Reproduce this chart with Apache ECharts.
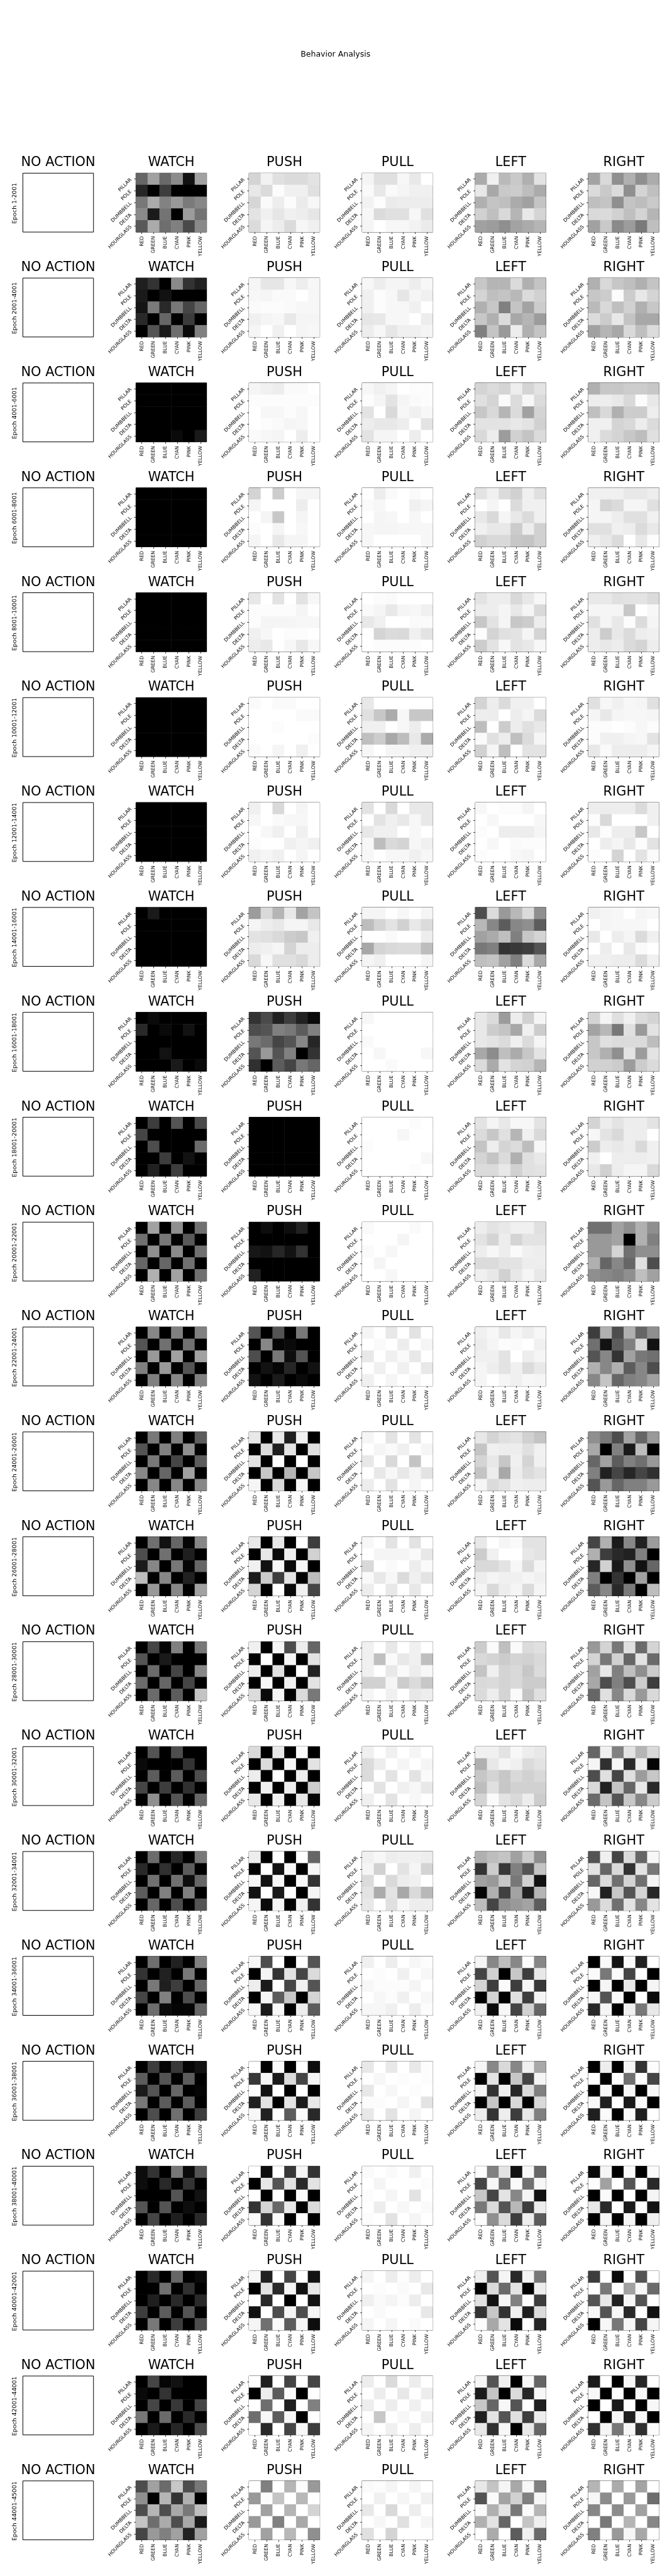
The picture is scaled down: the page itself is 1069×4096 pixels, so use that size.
<!DOCTYPE html>
<html><head><meta charset="utf-8">
<script src="https://cdn.jsdelivr.net/npm/echarts@6/dist/echarts.min.js"></script>
<style>html,body{margin:0;padding:0;background:#fff;}#c{width:1069px;height:4096px;}</style>
</head><body><div id="c"></div>
<script>
const SUPTITLE = 'Behavior Analysis';
const ACTIONS = ['NO ACTION','WATCH','PUSH','PULL','LEFT','RIGHT'];
const COLORS = ['RED','GREEN','BLUE','CYAN','PINK','YELLOW'];
const SHAPES = ['PILLAR','POLE','DUMBBELL','DELTA','HOURGLASS'];
const EPOCHS = ['Epoch 1-2001','Epoch 2001-4001','Epoch 4001-6001','Epoch 6001-8001','Epoch 8001-10001','Epoch 10001-12001','Epoch 12001-14001','Epoch 14001-16001','Epoch 16001-18001','Epoch 18001-20001','Epoch 20001-22001','Epoch 22001-24001','Epoch 24001-26001','Epoch 26001-28001','Epoch 28001-30001','Epoch 30001-32001','Epoch 32001-34001','Epoch 34001-36001','Epoch 36001-38001','Epoch 38001-40001','Epoch 40001-42001','Epoch 42001-44001','Epoch 44001-45001'];

// values: darkness 0 (white) .. 100 (black); rows = SHAPES, columns = COLORS
const B6 = [100,100,100,100,100,100];
const WATCH = [
[[60,37,59,45,93,37],[85,100,76,100,100,100],[53,33,49,40,52,47],[46,90,55,100,39,55],[65,33,57,50,71,46]],
[[88,80,100,46,80,87],[90,100,93,100,100,100],[92,52,84,53,73,60],[84,100,60,100,77,100],[100,67,90,57,96,50]],
[B6,B6,B6,B6,[100,100,100,96,100,90]],
[B6,B6,B6,B6,B6],
[B6,B6,B6,B6,B6],
[B6,B6,B6,B6,B6],
[B6,B6,B6,B6,B6],
[[100,90,100,100,100,100],B6,B6,B6,B6],
[[100,96,100,100,100,100],[84,100,96,100,93,100],B6,[100,100,93,100,100,100],[100,100,100,90,100,96]],
[[100,76,100,67,100,71],[73,100,100,100,100,100],[100,70,100,100,100,58],[100,100,76,100,93,100],[100,87,100,76,100,100]],
[[100,37,100,44,100,56],[56,100,53,100,65,100],[100,44,100,46,100,56],[60,100,60,100,56,100],[100,31,100,36,100,56]],
[[100,47,100,50,100,50],[67,100,56,100,56,100],[100,40,100,37,100,37],[50,100,40,100,67,100],[100,50,100,47,100,50]],
[[100,53,100,50,100,64],[67,100,50,100,44,100],[100,53,100,73,100,64],[47,100,60,100,37,100],[100,47,100,47,100,47]],
[[100,56,93,60,98,47],[70,100,56,100,88,100],[90,47,100,53,98,60],[26,100,47,100,87,100],[100,40,100,47,100,37]],
[[100,73,98,50,100,53],[67,100,90,100,100,100],[100,58,100,73,100,47],[58,100,60,100,73,100],[100,58,100,64,100,23]],
[[100,67,100,70,100,100],[96,100,100,100,80,100],[100,64,100,64,100,70],[73,100,76,100,81,100],[100,44,100,67,100,60]],
[[100,58,100,85,100,53],[84,100,81,100,64,100],[100,56,100,56,95,60],[64,100,50,100,50,100],[100,60,100,70,100,67]],
[[100,57,100,87,100,50],[80,100,87,100,53,100],[100,53,88,76,100,60],[73,100,50,100,70,100],[100,57,96,98,98,60]],
[[100,76,98,78,98,93],[64,100,67,100,64,100],[90,67,100,60,100,98],[53,100,64,100,64,100],[100,70,100,56,100,76]],
[[95,80,100,53,96,67],[95,100,84,100,80,100],[100,100,100,67,100,93],[67,100,67,100,95,100],[100,73,100,88,100,84]],
[[100,84,100,60,100,96],[100,100,56,100,81,100],[100,88,100,84,100,84],[76,100,64,100,67,100],[100,53,100,76,100,70]],
[[100,73,98,93,100,100],[96,100,80,100,100,100],[100,73,100,78,100,73],[53,100,58,100,84,100],[100,90,100,85,100,70]],
[[70,37,58,22,70,53],[44,100,29,80,31,100],[70,29,70,34,53,25],[23,57,33,70,34,90],[73,40,50,37,87,37]]
];
const PUSH = [
[[17,5,12,14,14,11],[9,14,1,6,6,12],[16,2,7,1,8,3],[11,6,10,6,7,10],[14,4,7,14,3,6]],
[[4,10,10,3,7,3],[3,4,2,2,0,3],[2,1,1,2,3,3],[6,4,3,9,4,4],[4,0,6,0,4,3]],
[[4,6,7,2,2,0],[1,1,1,1,1,1],[0,3,3,1,3,0],[0,1,2,4,3,0],[2,3,4,0,7,0]],
[[17,0,20,0,4,4],[4,0,0,0,7,0],[0,4,22,0,4,0],[1,0,4,0,3,0],[4,0,9,4,4,0]],
[[9,0,11,0,11,3],[1,1,1,1,4,0],[1,4,4,4,3,3],[6,3,0,1,1,0],[7,9,0,3,9,3]],
[[2,0,2,2,0,0],[0,0,0,0,2,2],[0,0,1,0,0,0],[0,0,0,0,0,1],[2,0,4,0,6,0]],
[[6,0,15,0,4,0],[3,0,2,3,3,0],[0,3,6,0,6,0],[1,0,0,6,4,6],[6,4,6,0,4,0]],
[[39,15,29,9,36,23],[4,7,9,4,4,9],[11,12,15,20,22,6],[7,6,4,17,7,7],[15,3,12,12,15,7]],
[[80,71,87,76,87,96],[70,67,50,53,64,50],[53,58,73,67,47,85],[67,40,67,50,100,80],[81,100,64,73,53,60]],
[B6,B6,B6,B6,B6],
[[100,95,100,95,87,100],B6,[91,93,85,93,80,100],B6,[87,100,100,100,100,100]],
[[67,100,67,100,53,100],[100,47,98,96,100,100],[70,100,53,95,67,100],[100,93,98,85,100,93],[93,100,90,100,96,100]],
[[9,100,9,88,6,100],[100,14,88,11,100,12],[11,100,1,100,0,100],[100,22,100,29,100,22],[4,100,15,100,3,100]],
[[9,100,9,100,0,76],[100,9,96,6,100,18],[6,93,3,96,3,100],[90,20,76,11,100,26],[17,100,0,96,6,73]],
[[6,100,4,70,7,60],[100,0,100,4,100,11],[7,100,12,100,0,87],[100,3,100,6,100,11],[14,96,4,100,14,53]],
[[14,100,9,100,2,100],[100,14,100,3,100,11],[7,100,0,100,7,100],[100,6,100,7,100,20],[9,100,6,100,9,98]],
[[7,100,0,100,0,60],[100,0,93,3,100,3],[4,93,3,100,3,80],[93,0,90,0,100,4],[4,96,4,100,6,80]],
[[3,70,0,100,0,67],[100,4,80,11,73,14],[7,90,0,73,6,67],[100,4,64,22,100,17],[3,90,3,100,7,64]],
[[0,100,2,100,0,95],[78,4,90,14,73,4],[0,93,0,100,0,100],[87,11,100,11,90,9],[3,87,0,64,2,84]],
[[0,95,0,78,4,80],[100,9,67,11,84,11],[0,100,0,100,2,100],[80,17,60,9,100,14],[2,80,2,100,0,100]],
[[3,87,0,73,0,93],[100,11,84,4,93,9],[0,84,0,100,0,93],[93,0,70,4,70,4],[4,56,2,64,4,95]],
[[0,88,0,73,0,73],[100,7,64,2,100,0],[0,57,0,88,0,50],[57,3,64,3,100,0],[0,84,0,73,3,76]],
[[0,50,0,29,1,40],[40,1,23,0,28,0],[0,37,0,29,0,17],[40,0,50,0,34,0],[0,37,0,28,0,44]]
];
const PULL = [
[[4,12,12,3,9,0],[2,9,2,4,6,6],[5,1,8,7,7,7],[3,14,12,12,3,12],[4,0,3,3,5,8]],
[[3,7,4,4,7,3],[6,1,3,10,4,6],[6,1,3,3,6,0],[10,9,3,3,0,7],[7,3,10,6,6,4]],
[[3,6,4,0,1,1],[1,4,11,4,2,1],[11,0,15,3,6,3],[7,9,9,7,0,11],[11,4,4,0,7,0]],
[[0,7,2,0,2,0],[2,3,0,0,6,4],[0,4,3,0,3,0],[3,4,4,3,3,3],[3,0,0,0,0,3]],
[[0,1,2,0,0,0],[2,4,9,4,3,6],[9,6,0,0,2,2],[0,17,14,15,6,11],[0,1,1,1,1,0]],
[[9,0,0,0,0,0],[12,22,33,3,22,22],[6,6,0,3,7,0],[25,20,34,26,9,33],[3,0,4,4,6,6]],
[[11,0,15,0,9,9],[0,11,6,9,3,9],[9,6,6,0,3,0],[3,26,15,17,3,6],[3,0,3,3,6,3]],
[[4,4,0,3,0,4],[26,17,11,18,9,14],[0,0,2,0,0,7],[34,17,15,14,14,26],[4,6,0,0,0,4]],
[[3,0,0,0,0,0],[0,0,0,0,0,0],[2,0,0,0,0,0],[0,3,0,0,0,3],[0,0,2,0,0,0]],
[[0,0,0,0,1,0],[0,0,0,3,0,0],[1,0,0,0,0,0],[0,0,0,0,0,3],[0,0,0,0,1,0]],
[[2,0,0,0,2,0],[0,0,0,4,0,0],[2,0,3,0,0,0],[0,4,0,0,0,0],[0,0,3,0,0,0]],
[[4,0,9,0,11,0],[0,2,0,7,0,4],[9,0,6,2,9,0],[0,6,0,6,0,9],[6,0,4,0,3,0]],
[[4,0,11,0,11,0],[0,4,2,6,0,4],[9,0,15,0,23,0],[0,9,3,9,4,11],[7,0,11,0,4,0]],
[[3,0,11,0,11,0],[0,4,4,4,2,9],[15,0,2,0,7,2],[2,9,3,14,6,11],[7,0,9,0,9,0]],
[[6,0,9,0,6,0],[6,25,2,9,6,25],[6,0,9,2,7,3],[18,18,4,20,14,22],[4,0,6,0,9,7]],
[[6,0,6,0,4,0],[14,7,0,4,0,4],[14,0,11,0,11,2],[0,11,0,6,3,9],[6,0,11,0,3,0]],
[[6,3,7,6,6,7],[4,18,0,11,4,17],[14,0,15,7,6,0],[11,33,11,34,15,28],[9,0,12,3,7,7]],
[[6,0,7,0,3,1],[0,1,0,6,0,3],[3,1,1,1,4,0],[0,3,1,6,0,3],[3,3,6,0,7,1]],
[[9,0,9,0,9,1],[0,3,0,1,0,1],[9,0,3,0,1,0],[1,1,0,4,0,11],[9,0,11,0,4,0]],
[[2,0,2,0,6,0],[0,4,0,0,0,1],[1,0,4,0,11,0],[0,7,0,3,0,2],[1,0,11,0,4,0]],
[[4,0,7,1,7,0],[0,1,0,2,0,9],[6,2,4,1,7,0],[0,2,0,0,0,9],[4,0,4,0,2,0]],
[[7,0,14,0,7,0],[0,7,0,9,0,7],[7,0,7,0,6,0],[0,22,0,3,0,6],[4,0,6,0,7,0]],
[[2,1,4,0,4,0],[0,6,0,4,0,6],[9,0,15,0,7,0],[0,3,0,12,0,4],[12,0,17,0,0,0]]
];
const LEFT = [
[[33,6,27,21,31,11],[9,34,21,20,26,33],[31,23,25,33,37,23],[18,25,15,29,9,17],[37,39,44,36,33,29]],
[[22,29,29,14,31,23],[17,25,23,28,14,18],[31,22,50,23,36,20],[22,31,14,34,29,39],[50,23,40,7,31,23]],
[[17,14,17,7,17,11],[12,17,2,14,3,14],[22,15,29,14,37,17],[11,11,11,9,11,18],[15,7,39,18,23,14]],
[[11,6,14,18,6,12],[0,4,0,14,6,6],[9,15,4,9,14,6],[6,9,9,20,7,18],[18,15,15,22,23,18]],
[[11,7,7,15,9,3],[7,7,4,9,4,15],[22,11,4,22,20,7],[1,17,12,11,4,17],[20,11,3,11,9,3]],
[[17,7,14,6,6,0],[7,7,0,7,4,14],[26,0,20,7,12,9],[2,12,7,25,14,4],[18,4,25,0,11,11]],
[[3,0,1,1,4,0],[0,3,0,0,0,3],[1,0,7,7,7,4],[0,3,0,2,1,1],[1,0,0,3,4,0]],
[[70,14,40,28,14,44],[28,47,64,47,44,64],[37,33,25,50,22,17],[53,50,80,78,76,67],[25,23,37,50,14,34]],
[[9,14,39,7,18,4],[9,20,23,34,6,20],[9,11,14,6,14,4],[34,45,25,33,22,11],[14,33,11,17,18,29]],
[[11,4,9,3,3,11],[14,22,12,29,6,15],[23,7,17,14,26,3],[17,23,14,31,12,9],[14,14,9,18,12,11]],
[[7,11,9,6,6,12],[11,17,7,17,11,11],[7,3,7,2,6,7],[14,14,11,11,7,7],[6,9,18,9,4,9]],
[[6,3,9,4,7,3],[7,4,1,2,0,6],[6,6,11,0,7,4],[4,7,11,6,14,9],[4,0,4,6,3,4]],
[[9,17,12,11,18,23],[23,6,7,7,12,6],[17,9,22,6,17,6],[23,7,34,7,14,11],[4,14,11,6,7,7]],
[[9,0,4,2,11,11],[20,6,0,0,9,11],[15,15,11,3,14,4],[7,4,6,6,4,6],[4,15,7,4,14,4]],
[[20,2,25,2,14,12],[15,17,20,17,18,15],[23,6,17,15,22,14],[15,14,17,15,20,20],[14,7,17,2,23,12]],
[[6,6,11,3,7,9],[31,9,4,6,14,11],[22,17,22,15,18,15],[26,12,22,18,18,18],[17,2,11,15,7,20]],
[[31,26,23,37,20,44],[80,20,78,50,67,23],[37,40,22,53,18,93],[98,31,75,36,88,29],[26,73,44,40,36,64]],
[[4,47,26,47,1,47],[73,18,100,22,76,9],[17,76,2,76,3,78],[100,17,100,12,76,4],[6,96,3,73,18,60]],
[[4,47,15,47,6,34],[100,11,100,22,73,4],[4,80,6,85,14,50],[100,22,100,15,100,15],[7,80,7,76,9,50]],
[[1,50,11,93,3,60],[73,3,58,2,56,3],[22,73,11,47,4,93],[53,14,67,28,76,7],[1,44,14,76,7,64]],
[[6,67,4,84,4,53],[100,14,58,11,100,7],[12,93,3,50,1,76],[80,22,80,6,88,14],[1,34,11,96,1,85]],
[[4,67,6,100,3,60],[90,23,100,14,85,3],[22,60,3,67,0,88],[88,11,67,12,76,7],[9,81,3,100,9,60]],
[[9,23,4,34,3,50],[67,2,36,18,50,3],[2,31,11,53,2,29],[31,11,60,0,23,6],[0,33,0,64,6,58]]
];
const RIGHT = [
[[36,15,44,31,44,33],[14,21,14,44,17,25],[25,23,44,23,26,21],[15,14,18,25,17,29],[37,21,46,39,52,25]],
[[31,15,22,25,31,23],[22,20,1,20,9,17],[27,15,25,18,31,22],[14,20,9,23,34,34],[37,29,34,15,25,14]],
[[31,22,22,20,20,22],[7,7,9,15,1,9],[25,15,31,20,20,7],[6,6,17,15,7,14],[6,14,17,22,26,12]],
[[6,6,6,9,9,7],[4,17,14,4,4,12],[4,4,7,12,12,6],[12,12,6,7,14,9],[6,9,14,0,9,1]],
[[9,9,12,11,11,14],[4,4,4,22,0,3],[12,4,9,1,14,4],[7,20,9,14,7,6],[7,9,7,14,17,7]],
[[12,3,6,3,4,12],[4,9,4,3,3,4],[1,1,0,1,3,1],[1,6,6,4,3,11],[9,2,7,7,7,4]],
[[7,7,7,7,14,6],[1,15,0,0,0,6],[9,1,7,7,22,0],[0,7,4,9,1,11],[1,0,17,0,11,2]],
[[6,4,3,0,4,3],[0,4,3,3,3,0],[9,0,7,4,14,6],[0,7,0,9,2,0],[6,6,7,7,14,6]],
[[17,4,12,6,14,17],[36,28,53,12,40,11],[22,12,14,14,14,26],[22,31,44,11,39,11],[18,18,20,39,20,14]],
[[17,7,11,7,7,11],[3,11,15,7,7,0],[20,7,9,7,15,6],[6,0,7,7,7,6],[9,18,7,4,4,15]],
[[56,56,37,44,31,44],[40,40,36,100,31,50],[40,40,17,56,44,44],[31,60,47,60,12,70],[44,47,50,44,25,37]],
[[76,31,70,31,60,44],[56,93,64,50,15,93],[67,47,80,37,53,56],[31,47,31,64,47,70],[47,23,60,50,47,37]],
[[44,53,70,36,60,40],[34,100,50,90,26,100],[60,37,64,50,56,40],[50,87,73,85,73,81],[67,40,60,50,50,40]],
[[73,31,90,47,87,39],[31,76,84,87,50,100],[85,18,90,44,93,60],[50,100,80,100,37,100],[64,47,84,52,100,26]],
[[40,17,53,12,58,17],[17,53,18,60,11,58],[37,9,50,25,44,20],[34,70,50,70,20,76],[60,12,47,15,40,15]],
[[60,6,50,11,29,15],[4,81,4,84,7,98],[70,12,73,12,39,22],[15,87,23,60,9,84],[58,23,67,22,47,20]],
[[67,6,73,14,60,3],[11,60,15,80,11,53],[60,14,56,17,56,4],[3,87,22,67,17,84],[40,14,56,11,47,11]],
[[100,2,93,2,87,0],[2,53,2,73,0,100],[100,4,100,9,100,4],[3,67,2,100,0,96],[84,4,100,6,53,9]],
[[100,7,100,4,80,1],[0,100,0,56,0,73],[100,3,100,3,100,3],[3,88,0,90,2,100],[88,2,100,2,88,0]],
[[96,4,100,2,100,2],[1,37,0,67,0,84],[100,2,100,0,100,4],[9,84,0,90,0,93],[100,4,100,4,100,6]],
[[76,0,96,0,67,0],[0,53,0,37,3,58],[67,9,87,3,67,0],[3,67,3,84,0,93],[100,3,53,3,73,4]],
[[90,0,100,3,85,0],[3,100,0,100,3,100],[100,0,90,0,100,3],[0,100,3,88,3,100],[81,4,53,4,81,1]],
[[29,0,33,0,36,0],[3,45,0,40,0,57],[47,0,45,0,37,0],[0,53,0,29,0,47],[50,0,40,3,34,0]]
];

const PANELS = [null, WATCH, PUSH, PULL, LEFT, RIGHT];
const FONT = 'DejaVu Sans';
const S = 0.593;
const BW = 189.5 * S, BH = 158 * S;

const grid = [], xAxis = [], yAxis = [], series = [], graphic = [], hm = [];
graphic.push({type:'text', x: 900 * S, y: 146 * S, silent: true,
  style: {text: SUPTITLE, fontSize: 12.5, fontFamily: FONT, fill: '#000', align: 'center', verticalAlign: 'middle'}});

for (let i = 0; i < EPOCHS.length; i++) {
  const top = (464.3 + 281.27 * i) * S;
  for (let c = 0; c < ACTIONS.length; c++) {
    const left = (61.3 + 303.44 * c) * S;
    const g = grid.length;
    grid.push({left: left, top: top, width: BW, height: BH, show: true,
      borderColor: '#000', borderWidth: 1, backgroundColor: 'rgba(0,0,0,0)'});
    graphic.push({type:'text', x: left + BW / 2, y: top - 27.6 * S, silent: true,
      style: {text: ACTIONS[c], fontSize: 20.9, fontFamily: FONT, fill: '#000', align: 'center', verticalAlign: 'middle'}});
    if (c === 0) {
      xAxis.push({type: 'category', gridIndex: g, show: false, data: COLORS});
      yAxis.push({type: 'category', gridIndex: g, show: false, data: SHAPES});
      graphic.push({type:'text', x: 40.5 * S, y: top + (545 - 464.3) * S, rotation: Math.PI / 2, silent: true,
        style: {text: EPOCHS[i], fontSize: 9.4, fontFamily: FONT, fill: '#000', align: 'center', verticalAlign: 'middle'}});
      continue;
    }
    const tick = {show: true, alignWithLabel: true, length: 3, lineStyle: {color: '#000', width: 0.8}};
    xAxis.push({type: 'category', gridIndex: g, data: COLORS, position: 'bottom',
      axisLine: {show: false}, axisTick: tick, splitLine: {show: false},
      axisLabel: {interval: 0, rotate: 90, margin: 6.5, fontSize: 7.8, fontFamily: FONT, color: '#000'}});
    yAxis.push({type: 'category', gridIndex: g, data: SHAPES, inverse: true,
      axisLine: {show: false}, axisTick: tick, splitLine: {show: false},
      axisLabel: {interval: 0, rotate: 45, margin: 8, fontSize: 7.8, fontFamily: FONT, color: '#000'}});
    const m = PANELS[c][i];
    const data = [];
    for (let r = 0; r < SHAPES.length; r++)
      for (let k = 0; k < COLORS.length; k++) data.push([k, r, m[r][k]]);
    hm.push(series.length);
    series.push({type: 'heatmap', xAxisIndex: g, yAxisIndex: g, data: data, silent: true,
      progressive: 0, itemStyle: {borderWidth: 0}, emphasis: {disabled: true}});
  }
}

const chart = echarts.init(document.getElementById('c'), null, {renderer: 'canvas', width: 1069, height: 4096});
chart.setOption({
  animation: false,
  backgroundColor: '#fff',
  grid: grid, xAxis: xAxis, yAxis: yAxis, series: series, graphic: graphic,
  visualMap: {type: 'continuous', show: false, min: 0, max: 100, seriesIndex: hm,
    inRange: {color: ['#ffffff', '#000000']}}
});
</script></body></html>
